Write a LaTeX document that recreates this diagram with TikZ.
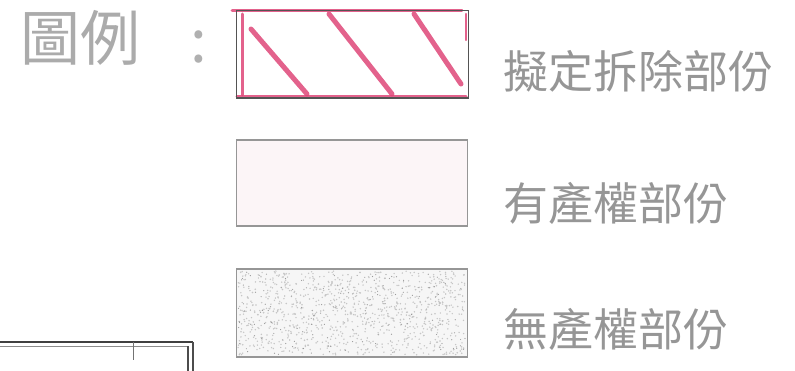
\documentclass[tikz,border=0pt]{standalone}
\usepackage{fontspec}
\newfontfamily\cjk{Noto Sans CJK TC}
\usetikzlibrary{positioning}
\definecolor{hatchpink}{RGB}{222,70,120}
\definecolor{inkgrey}{RGB}{150,150,150}
\definecolor{boxgrey}{RGB}{105,105,105}
\definecolor{faintpink}{RGB}{252,245,247}
\tikzset{
    legend box/.style={draw=boxgrey,line width=1.3pt,minimum width=231pt,minimum height=86pt,inner sep=0pt},
    legend text/.style={font=\cjk\fontsize{45}{45}\selectfont,text=inkgrey,inner sep=0pt,anchor=west}
}

\begin{document}
\begin{tikzpicture}[x=1pt,y=-1pt]
    \useasboundingbox (0,0) rectangle (795,371);
    % title
    \node[legend text,font=\cjk\fontsize{60}{60}\selectfont,text=inkgrey!80] (title) at (20,38) {圖例};
    \node[legend text,font=\cjk\fontsize{60}{60}\selectfont,text=inkgrey!75] (colon) at (190,47) {:};
    % legend boxes
    \node[legend box,draw=none] (demolish) at (352.5,54.5) {};
    \node[legend box,draw=boxgrey!70,fill=faintpink] (owned) at (352,183) {};
    \node[legend box,draw=boxgrey!70,fill=gray!7,minimum height=88pt] (unowned) at (352,313) {};
    % hatching of the demolition box
    \begin{scope}[hatchpink,line width=5pt,line cap=round,opacity=.85]
        \draw (251,29) -- (307,94);
        \draw (329,14) -- (392,94);
        \draw (414,14) -- (461,84);
        \draw[line width=3pt] (242,14) -- (242,95);
        \draw[line width=3pt] (232,11) -- (462,11);
        \draw[line width=3pt] (237,97) -- (466,97);
        \draw[line width=2.5pt] (466,14) -- (466,40);
    \end{scope}
    \draw[boxgrey!80!black,line width=1.3pt] (demolish.north west) rectangle (demolish.south east);
    % stipple of the unowned box
    \pgfmathsetseed{11}
    \foreach \i in {1,...,900}
        \fill[gray!45] ({238+rnd*228},{271+rnd*84}) circle (0.8);
    \foreach \i in {1,...,250}
        \fill[gray!80] ({238+rnd*228},{271+rnd*84}) circle (0.6);
    % labels
    \node[legend text] (demolish label) at (503,71.5) {擬定拆除部份};
    \node[legend text] (owned label) at (503,203) {有產權部份};
    \node[legend text] (unowned label) at (503,329) {無產權部份};
    % edge of the plan below
    \draw[black!75,line width=2.5pt] (0,342) -- (193,342);
    \draw[black!45,line width=1pt] (0,346) -- (188,346);
    \draw[black!55,line width=1pt] (133,342) -- (133,360);
    \draw[black!70,line width=1.2pt] (188,346) -- (188,371);
    \draw[black!70,line width=1.2pt] (193,342) -- (193,371);
\end{tikzpicture}
\end{document}
